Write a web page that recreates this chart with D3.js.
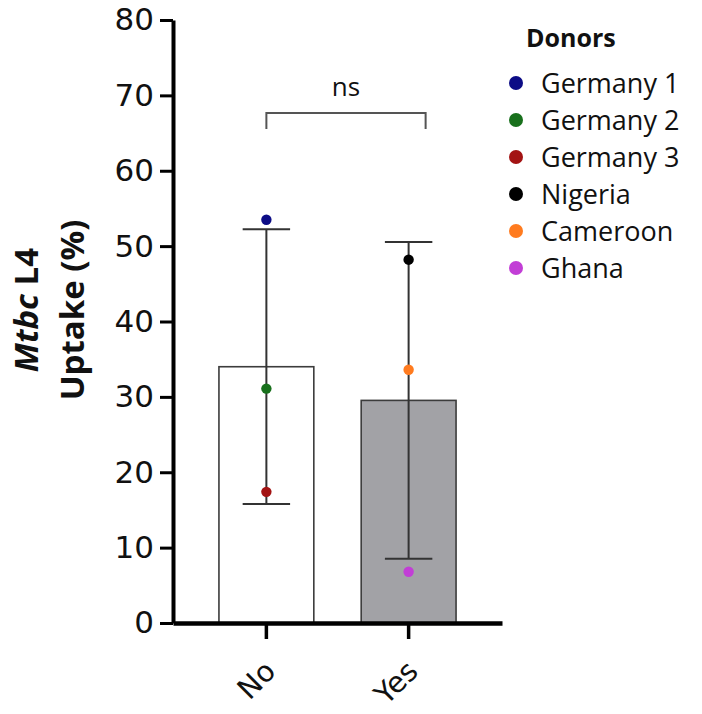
<!DOCTYPE html>
<html>
<head>
<meta charset="utf-8">
<script src="https://cdn.jsdelivr.net/npm/d3@7"></script>
<style>
  html, body { margin: 0; padding: 0; background: #fff; }
  svg { display: block; }
</style>
</head>
<body>
<svg id="chart" width="702" height="714"></svg>
<script>
// Groups on the x axis
const categories = ["No", "Yes"];

// Individual donors: name, colour, group and measured uptake (%)
const donors = ["Germany 1", "Germany 2", "Germany 3", "Nigeria", "Cameroon", "Ghana"];
const donorColors = ["#0c0c86", "#18701c", "#a31313", "#000000", "#ff7b1f", "#c23ed6"];
const donorGroup = ["No", "No", "No", "Yes", "Yes", "Yes"];
const donorUptake = [53.5, 31.1, 17.4, 48.2, 33.6, 6.8];

// Bar fills per group
const barFills = ["#ffffff", "#a2a2a6"];

// Y axis ticks
const yTicks = [0, 10, 20, 30, 40, 50, 60, 70, 80];

// Comparison label
const significance = "ns";

const svg = d3.select("#chart");

const x = d3.scaleBand()
  .domain(categories)
  .range([173, 502])
  .paddingInner(0.333)
  .paddingOuter(0.323);

const y = d3.scaleLinear().domain([0, 80]).range([623, 20]);

// Mean and sample SD per group
const stats = categories.map((c, i) => {
  const vals = donorUptake.filter((v, j) => donorGroup[j] === c);
  return { cat: c, fill: barFills[i], mean: d3.mean(vals), sd: d3.deviation(vals) };
});

// Bars
svg.append("g").selectAll("rect")
  .data(stats)
  .join("rect")
  .attr("x", d => x(d.cat))
  .attr("y", d => y(d.mean))
  .attr("width", x.bandwidth())
  .attr("height", d => y(0) - y(d.mean))
  .attr("fill", d => d.fill)
  .attr("stroke", "#3c3c3c")
  .attr("stroke-width", 1.6);

// Error bars (mean ± SD)
const capHalf = x.bandwidth() / 4;
const eb = svg.append("g")
  .attr("stroke", "#333")
  .attr("stroke-width", 2)
  .selectAll("g")
  .data(stats)
  .join("g");
eb.append("line")
  .attr("x1", d => x(d.cat) + x.bandwidth() / 2)
  .attr("x2", d => x(d.cat) + x.bandwidth() / 2)
  .attr("y1", d => y(d.mean + d.sd))
  .attr("y2", d => y(d.mean - d.sd));
[1, -1].forEach(s => {
  eb.append("line")
    .attr("x1", d => x(d.cat) + x.bandwidth() / 2 - capHalf)
    .attr("x2", d => x(d.cat) + x.bandwidth() / 2 + capHalf)
    .attr("y1", d => y(d.mean + s * d.sd))
    .attr("y2", d => y(d.mean + s * d.sd));
});

// Donor points
svg.append("g").selectAll("circle")
  .data(donors.map((n, i) => ({ name: n, color: donorColors[i], group: donorGroup[i], v: donorUptake[i] })))
  .join("circle")
  .attr("cx", d => x(d.group) + x.bandwidth() / 2)
  .attr("cy", d => y(d.v))
  .attr("r", 5.2)
  .attr("fill", d => d.color);

// Y axis
const yAxis = svg.append("g")
  .attr("transform", "translate(173,0)")
  .call(d3.axisLeft(y).tickValues(yTicks).tickSize(13).tickSizeOuter(0).tickPadding(6));
yAxis.select(".domain").attr("stroke", "#000").attr("stroke-width", 4);
yAxis.selectAll(".tick line").attr("stroke", "#000").attr("stroke-width", 3);
yAxis.selectAll(".tick text")
  .attr("fill", "#111")
  .style("font-family", "'DejaVu Sans', sans-serif")
  .style("font-size", "31px");

// X axis
const xAxis = svg.append("g")
  .attr("transform", `translate(0,${y(0)})`)
  .call(d3.axisBottom(x).tickSize(16).tickSizeOuter(0).tickFormat(""));
xAxis.select(".domain").attr("stroke", "#000").attr("stroke-width", 4.5);
xAxis.selectAll(".tick line").attr("stroke", "#000").attr("stroke-width", 3.5);

// Rotated category labels
svg.append("g").selectAll("text")
  .data(categories)
  .join("text")
  .attr("transform", d => `translate(${x(d) + x.bandwidth() / 2 + 11},673) rotate(-45)`)
  .attr("text-anchor", "end")
  .style("font-family", "'DejaVu Sans', sans-serif")
  .style("font-size", "29px")
  .attr("fill", "#111")
  .text(d => d);

// Y axis title (two lines)
const title = svg.append("text")
  .attr("transform", "translate(0,310) rotate(-90)")
  .attr("text-anchor", "middle")
  .style("font-family", "'Open Sans', sans-serif")
  .style("font-weight", "bold")
  .style("font-size", "33px")
  .attr("fill", "#111");
const t1 = title.append("tspan").attr("x", 0).attr("y", 38);
t1.append("tspan").style("font-style", "italic").text("Mtbc");
t1.append("tspan").text(" L4");
title.append("tspan").attr("x", 0).attr("y", 84).text("Uptake (%)");

// Significance bracket between groups
const bx1 = x("No") + x.bandwidth() / 2;
const bx2 = x("Yes") + x.bandwidth() / 2 + 17;
svg.append("path")
  .attr("d", `M${bx1},129V113H${bx2}V129`)
  .attr("fill", "none")
  .attr("stroke", "#555")
  .attr("stroke-width", 2);
svg.append("text")
  .attr("x", (bx1 + bx2) / 2)
  .attr("y", 96)
  .attr("text-anchor", "middle")
  .style("font-family", "'Open Sans', sans-serif")
  .style("font-size", "26px")
  .attr("fill", "#111")
  .text(significance);

// Legend
const legend = svg.append("g");
legend.append("text")
  .attr("x", 526)
  .attr("y", 47)
  .style("font-family", "'Open Sans', sans-serif")
  .style("font-weight", "bold")
  .style("font-size", "25px")
  .attr("fill", "#111")
  .text("Donors");
const item = legend.selectAll("g.item")
  .data(donors.map((n, i) => ({ name: n, color: donorColors[i] })))
  .join("g")
  .attr("class", "item")
  .attr("transform", (d, i) => `translate(516,${83 + i * 37})`);
item.append("circle").attr("r", 7).attr("fill", d => d.color);
item.append("text")
  .attr("x", 25)
  .attr("dy", "0.36em")
  .style("font-family", "'Open Sans', sans-serif")
  .style("font-size", "27px")
  .attr("fill", "#111")
  .text(d => d.name);
</script>
</body>
</html>
